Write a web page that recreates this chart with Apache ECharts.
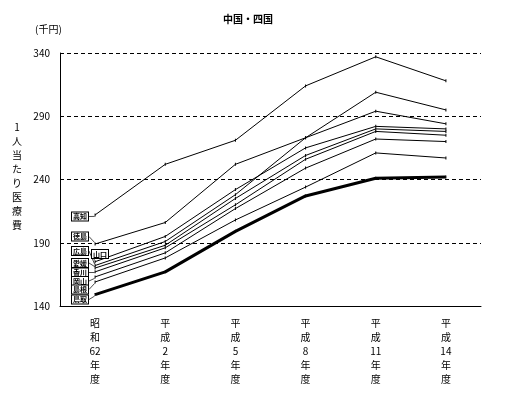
<!DOCTYPE html>
<html lang="ja">
<head>
<meta charset="UTF-8">
<title>中国・四国</title>
<script src="https://cdn.jsdelivr.net/npm/echarts@6/dist/echarts.min.js"></script>
<style>
    html, body { margin: 0; padding: 0; background: #fff; }
    #chart { width: 505px; height: 397px; }
</style>
</head>
<body>
<div id="chart"></div>
<script>
    // 年度 (縦書き)
    var years = ['昭\n和\n62\n年\n度', '平\n成\n2\n年\n度', '平\n成\n5\n年\n度',
                 '平\n成\n8\n年\n度', '平\n成\n11\n年\n度', '平\n成\n14\n年\n度'];

    // 1人当たり医療費 (千円)
    var kochi     = [212, 252, 271, 314, 337, 318];
    var tokushima = [189, 206, 252, 273, 294, 284];
    var yamaguchi = [175, 195, 232, 265, 282, 280];
    var hiroshima = [172, 191, 228, 273, 309, 295];
    var ehime     = [170, 188, 225, 259, 280, 278];
    var kagawa    = [167, 186, 220, 256, 278, 275];
    var okayama   = [163, 182, 217, 249, 272, 270];
    var shimane   = [159, 178, 208, 234, 261, 257];
    var tottori   = [149, 167, 199, 227, 241, 242];

    var yTicks = { min: 140, max: 340, step: 50 };

    var FONT = 'Noto Sans CJK JP';

    // ラベルの置き場所 (ピクセル)
    var labelPos = {
        '高知': [80, 216.5], '徳島': [80, 236.5], '広島': [80, 251],
        '山口': [100, 254], '愛媛': [80, 263], '香川': [80, 272.5],
        '岡山': [80, 281], '島根': [80, 289.5], '鳥取': [80, 299.5]
    };

    function makeSeries(name, values, width) {
        var data = values.map(function (v, i) {
            if (i === 0) {
                return { value: v, label: { show: true } };
            }
            return v;
        });
        var pos = labelPos[name];
        return {
            name: name,
            type: 'line',
            data: data,
            symbol: 'rect',
            symbolSize: [1, 3],
            itemStyle: { color: '#000' },
            lineStyle: { color: '#000', width: width },
            animation: false,
            label: {
                show: false,
                formatter: name,
                position: 'inside',
                fontFamily: FONT,
                fontSize: 7,
                fontWeight: 'bold',
                color: '#000',
                backgroundColor: '#fff',
                borderColor: '#000',
                borderWidth: 1,
                padding: [1, 1, 0, 1]
            },
            labelLine: { show: true, lineStyle: { color: '#000', width: 0.7 } },
            labelLayout: { x: pos[0], y: pos[1], align: 'center', verticalAlign: 'middle', hideOverlap: false }
        };
    }

    var chart = echarts.init(document.getElementById('chart'));

    var option = {
        backgroundColor: '#fff',
        title: [
            { text: '中国・四国', left: 243, top: 9, textAlign: 'center',
              textStyle: { fontFamily: FONT, fontSize: 10, fontWeight: 'bold', color: '#000' } },
            { text: '(千円)', left: 30, top: 19,
              textStyle: { fontFamily: FONT, fontSize: 10, fontWeight: 'normal', color: '#000' } },
            { text: '1\n人\n当\nた\nり\n医\n療\n費', left: 12, top: 115, textAlign: 'center',
              textStyle: { fontFamily: FONT, fontSize: 10, fontWeight: 'normal', color: '#000', lineHeight: 14 } }
        ],
        grid: { left: 60, right: 24, top: 53, bottom: 91 },
        xAxis: {
            type: 'category',
            data: years,
            boundaryGap: true,
            axisLine: { lineStyle: { color: '#000', width: 1 } },
            axisTick: { show: false },
            axisLabel: {
                color: '#000', fontFamily: FONT, fontSize: 10, lineHeight: 14,
                margin: 10, interval: 0
            }
        },
        yAxis: {
            type: 'value',
            min: yTicks.min,
            max: yTicks.max,
            interval: yTicks.step,
            axisLine: { show: true, lineStyle: { color: '#000', width: 1 } },
            axisTick: { show: false },
            axisLabel: { color: '#000', fontFamily: FONT, fontSize: 10, margin: 10 },
            splitLine: { show: true, lineStyle: { color: '#000', type: [4, 3], width: 1 } }
        },
        series: [
            makeSeries('高知', kochi, 1),
            makeSeries('徳島', tokushima, 1),
            makeSeries('山口', yamaguchi, 1),
            makeSeries('広島', hiroshima, 1),
            makeSeries('愛媛', ehime, 1),
            makeSeries('香川', kagawa, 1),
            makeSeries('岡山', okayama, 1),
            makeSeries('島根', shimane, 1),
            makeSeries('鳥取', tottori, 3)
        ]
    };

    chart.setOption(option);
</script>
</body>
</html>
